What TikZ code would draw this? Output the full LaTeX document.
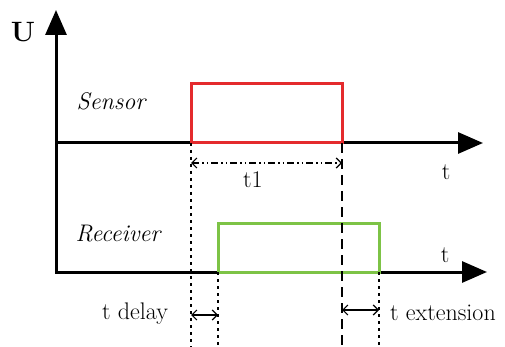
\documentclass[tikz,border=0pt]{standalone}
\usetikzlibrary{
    arrows.meta,
    positioning,
    calc
}
\definecolor{sensorred}{RGB}{228,42,45}
\definecolor{receivergreen}{RGB}{125,195,70}
\tikzset{
    % Axes
    axis/.style={
        line width=3pt,
        draw=black,
        line join=miter
    },
    % Signal pulses
    sensorbox/.style={
        line width=3pt,
        draw=sensorred
    },
    receiverbox/.style={
        line width=3pt,
        draw=receivergreen
    },
    % Guide lines
    dottedguide/.style={
        line width=1.6pt,
        dash pattern=on 3pt off 4pt
    },
    dashedguide/.style={
        line width=1.6pt,
        dash pattern=on 10pt off 6pt
    },
    % Time spans
    spanarrow/.style={
        line width=1.2pt,
        {Straight Barb[length=5pt,width=10pt]}-{Straight Barb[length=5pt,width=10pt]}
    },
    dashdotarrow/.style={
        spanarrow,
        dash pattern=on 7pt off 3pt on 1.5pt off 3pt on 1.5pt off 3pt
    },
    % Labels
    siglabel/.style={
        font=\fontsize{24}{28}\selectfont\itshape,
        anchor=base
    },
    timelabel/.style={
        font=\fontsize{24}{28}\selectfont,
        anchor=base
    }
}

\begin{document}
\begin{tikzpicture}[x=1pt, y=-1pt]
    \useasboundingbox (0,0) rectangle (505,347);

    % Axes
    \coordinate (utop) at (56,10);
    \coordinate (origin) at (56,272);
    \coordinate (rend) at (487,272);
    \coordinate (sstart) at (56,143);
    \coordinate (send) at (483,143);
    \draw[axis, {Triangle[length=25pt,width=21pt]}-{Triangle[length=25pt,width=21pt]}] (utop) -- (origin) -- (rend);
    \draw[axis, -{Triangle[length=25pt,width=21pt]}] (sstart) -- (send);

    \node[font=\fontsize{28}{32}\selectfont\bfseries, anchor=base] (ulabel) at (23,42) {U};
    \node[timelabel] (ttop) at (446,180) {t};
    \node[timelabel] (tbottom) at (445,262) {t};

    % Sensor pulse
    \coordinate (son) at (191,143);
    \coordinate (soff) at (342,143);
    \draw[sensorbox] (son) -- ++(0,-59) -| (soff) -- cycle;
    \node[siglabel] (sensor) at (111,110) {Sensor};

    % Receiver pulse
    \coordinate (ron) at (218,272);
    \coordinate (roff) at (379,272);
    \draw[receiverbox] (ron) -- ++(0,-49) -| (roff) -- cycle;
    \node[siglabel] (receiver) at (118,241) {Receiver};

    % Guide lines
    \coordinate (sonbot) at (191,347);
    \coordinate (soffbot) at (342,347);
    \coordinate (ronbot) at (218,347);
    \coordinate (roffbot) at (379,347);
    \draw[dottedguide] (son) -- (sonbot);
    \draw[dashedguide] (soff) -- (soffbot);
    \draw[dottedguide] (ron) -- (ronbot);
    \draw[dottedguide] (roff) -- (roffbot);

    % Time spans
    \draw[dashdotarrow] ($(son)+(0,20)$) -- ($(soff)+(0,20)$);
    \node[timelabel] (t1) at (253,188) {t1};
    \draw[spanarrow] (son |- 0,315) -- (ron |- 0,315);
    \node[timelabel] (tdelay) at (135,319) {t delay};
    \draw[spanarrow] (soff |- 0,310) -- (roff |- 0,310);
    \node[timelabel] (textension) at (443,320) {t extension};

\end{tikzpicture}
\end{document}
